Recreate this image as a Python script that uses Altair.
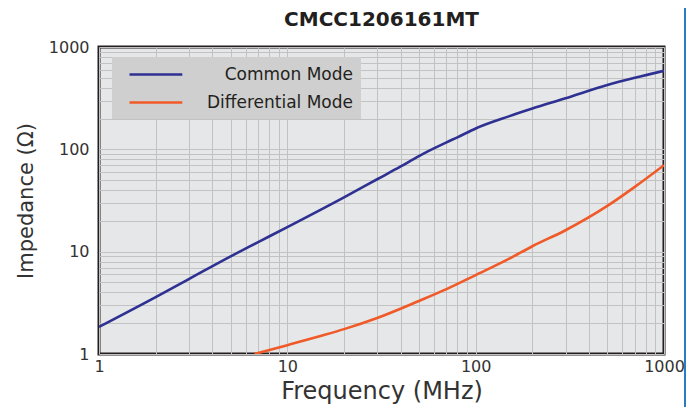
import altair as alt
import pandas as pd

# ---- data ----
cm_freq = [1, 2, 3, 5, 7, 10, 20, 30, 40, 50, 60, 70, 80, 100, 150, 200, 300, 500, 700, 1000]
cm_z = [1.84, 3.6, 5.4, 9.0, 12.4, 17.4, 34, 51, 68, 86, 102, 117, 131, 160, 210, 250, 315, 425, 500, 585]

dm_freq = [6.7, 10, 15, 20, 30, 50, 70, 100, 150, 200, 300, 500, 700, 1000]
dm_z = [1.0, 1.22, 1.5, 1.75, 2.25, 3.3, 4.3, 5.9, 8.5, 11.3, 16.2, 28, 43, 70]

series = ["Common Mode", "Differential Mode"]
colors = ["#2e3192", "#f05a28"]
major_ticks = [1, 10, 100, 1000]
grid_vals = [m * 10 ** e for e in range(3) for m in range(1, 10)] + [1000]

df = pd.concat([
    pd.DataFrame({"f": cm_freq, "z": cm_z, "s": series[0]}),
    pd.DataFrame({"f": dm_freq, "z": dm_z, "s": series[1]}),
])

FONT = "DejaVu Sans"
TXT = "#333333"

label_expr = "indexof(%s, datum.value) >= 0 ? datum.label : ''" % str(major_ticks)

lines = alt.Chart(df).mark_line(strokeWidth=2.6, interpolate="monotone", clip=True).encode(
    x=alt.X("f:Q",
            scale=alt.Scale(type="log", domain=[1, 1000], nice=False),
            axis=alt.Axis(values=grid_vals, labelExpr=label_expr, format="d",
                          title="Frequency (MHz)", titleFontSize=24, titleFontWeight="normal",
                          titlePadding=5, labelFontSize=16, labelPadding=4,
                          labelFlush=False, labelOverlap=False)),
    y=alt.Y("z:Q",
            scale=alt.Scale(type="log", domain=[1, 1000], nice=False),
            axis=alt.Axis(values=grid_vals, labelExpr=label_expr, format="d",
                          title="Impedance (Ω)", titleFontSize=21, titleFontWeight="normal",
                          titlePadding=12, labelFontSize=16, labelPadding=10,
                          labelFlush=False, labelOverlap=False)),
    color=alt.Color("s:N",
                    scale=alt.Scale(domain=series, range=colors),
                    legend=alt.Legend(
                        title=None, orient="none", legendX=13, legendY=10,
                        fillColor="#cfcfcf", padding=8,
                        symbolType="M0,0H6.6", symbolSize=256, symbolStrokeWidth=2.6,
                        labelAlign="right", labelOffset=214, rowPadding=10,
                        labelFontSize=17, labelColor="#231f20", labelFont=FONT,
                        labelLimit=300,
                    )),
)

frame_line = alt.Chart(pd.DataFrame({"a": [0]})).mark_rule(
    color="#2b7bc2", strokeWidth=2, clip=False
).encode(x=alt.value(586), y=alt.value(-39), y2=alt.value(361))

chart = alt.layer(lines, frame_line).properties(
    width=565, height=307,
    autosize=alt.AutoSizeParams(type="none"),
    padding={"left": 91, "top": 39, "right": 25, "bottom": 53},
    title=alt.Title("CMCC1206161MT", fontSize=20, fontWeight="bold", color="#231f20",
                    font=FONT, anchor="middle", offset=-23, frame="group"),
).configure_view(
    fill="#e6e7e8", stroke="#231f20", strokeWidth=3
).configure_axis(
    ticks=False, domain=False, grid=True, gridColor="#c2c2c2", gridWidth=1,
    labelColor=TXT, titleColor=TXT, labelFont=FONT, titleFont=FONT,
)

chart.save("out.html", embed_options={"renderer": "svg", "actions": False})
